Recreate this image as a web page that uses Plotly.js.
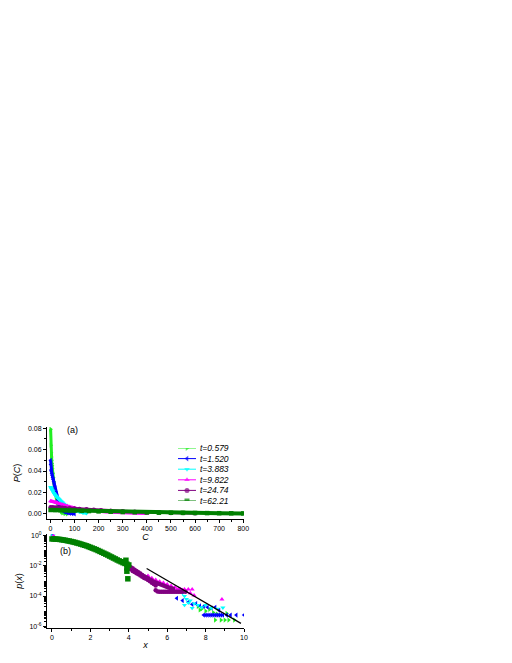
<!DOCTYPE html>
<html>
<head>
<meta charset="utf-8">
<script src="https://cdn.plot.ly/plotly-3.0.1.min.js"></script>
<style>
html, body { margin: 0; padding: 0; background: #fff; }
#chart { width: 512px; height: 663px; }
</style>
</head>
<body>
<div id="chart"></div>
<script>
// series labels (times)
var tLabels = ['t=0.579', 't=1.520', 't=3.883', 't=9.822', 't=24.74', 't=62.21'];

// (a) P(C) vs C
var cA1 = [1, 2, 3, 4, 5, 6, 7, 8, 10, 12, 14, 16, 18, 20, 23, 26, 29, 32, 36, 40, 45, 50, 60, 70];
var pA1 = [0.079, 0.064, 0.057, 0.053, 0.050, 0.047, 0.045, 0.042, 0.038, 0.034, 0.030, 0.026, 0.023, 0.020, 0.016, 0.013, 0.010, 0.008, 0.0055, 0.0035, 0.002, 0.001, 0.0004, 0.0001];
var cA2 = [1, 2, 3, 4, 6, 8, 10, 12, 14, 16, 18, 20, 22, 25, 28, 31, 34, 38, 42, 46, 50, 55, 60, 70, 80, 90, 100];
var pA2 = [0.050, 0.046, 0.041, 0.040, 0.038, 0.036, 0.034, 0.032, 0.030, 0.028, 0.026, 0.024, 0.022, 0.019, 0.016, 0.013, 0.011, 0.008, 0.006, 0.0045, 0.0035, 0.0025, 0.0018, 0.001, 0.0006, 0.0003, 0.0001];
var cA3 = [1, 3, 5, 8, 11, 14, 17, 20, 24, 28, 32, 36, 40, 45, 50, 55, 60, 66, 72, 80, 90, 100, 110, 120, 135, 150];
var pA3 = [0.025, 0.024, 0.023, 0.022, 0.021, 0.0195, 0.0185, 0.0175, 0.0165, 0.0155, 0.0145, 0.0135, 0.0125, 0.0115, 0.0105, 0.0095, 0.0085, 0.0075, 0.0065, 0.0055, 0.0045, 0.0035, 0.0027, 0.002, 0.0012, 0.0006];
var cA4 = [1, 5, 10, 15, 20, 25, 30, 40, 50, 60, 70, 80, 90, 100, 120, 140, 160, 180, 200, 230, 260, 300, 350, 400];
var pA4 = [0.012, 0.0118, 0.0115, 0.0112, 0.011, 0.0106, 0.0102, 0.0095, 0.0088, 0.008, 0.0073, 0.0066, 0.006, 0.0055, 0.0046, 0.0039, 0.0033, 0.0028, 0.0024, 0.0019, 0.0015, 0.0011, 0.0007, 0.0004];
var cA5 = [1, 10, 20, 30, 40, 50, 60, 80, 100, 120, 150, 180, 210, 250, 300, 350, 400, 450, 500, 550, 600];
var pA5 = [0.0062, 0.0062, 0.0061, 0.006, 0.0059, 0.0058, 0.0056, 0.0053, 0.005, 0.0047, 0.0043, 0.0039, 0.0035, 0.003, 0.0025, 0.002, 0.0016, 0.0013, 0.001, 0.0008, 0.0006];
var cA6 = [1, 20, 40, 60, 80, 100, 130, 160, 200, 250, 300, 350, 400, 450, 500, 550, 600, 650, 700, 750, 800];
var pA6 = [0.0037, 0.0036, 0.0035, 0.0034, 0.0032, 0.0031, 0.0029, 0.0027, 0.0024, 0.0021, 0.0018, 0.0016, 0.0014, 0.0012, 0.0011, 0.001, 0.0009, 0.0008, 0.0007, 0.0006, 0.0005];

// (b) p(x) vs x
var xB1 = [7.6, 7.7, 7.8, 8.0, 8.2, 8.4, 8.5, 8.6, 8.8, 9.0, 9.1, 9.2, 9.5];
var pB1 = [2.0e-5, 1.17e-5, 1.41e-5, 1.0e-5, 1.26e-5, 7.9e-6, 2.5e-6, 6.3e-6, 2.5e-6, 2.5e-6, 6.9e-6, 2.5e-6, 2.5e-6];
var xB2 = [0.03, 6.5, 6.8, 7.1, 7.3, 7.5, 7.7, 7.9, 8.1, 8.3, 8.5, 8.7, 7.9, 8.0, 8.1, 8.2, 8.3, 8.4, 8.5, 8.6, 8.7, 8.8, 8.9, 9.1, 9.3, 9.6, 10.0];
var pB2 = [1.12, 7.1e-5, 5.0e-5, 4.0e-5, 2.8e-5, 3.16e-5, 2.24e-5, 2.0e-5, 1.78e-5, 1.58e-5, 1.78e-5, 1.12e-5, 5.4e-6, 5.4e-6, 5.4e-6, 5.4e-6, 5.4e-6, 5.4e-6, 5.4e-6, 5.4e-6, 5.4e-6, 5.4e-6, 5.4e-6, 5.4e-6, 5.4e-6, 5.4e-6, 5.4e-6];
var xB3 = [0.05, 6.6, 6.8, 6.9, 7.0, 7.1, 6.9, 7.2, 7.3, 7.4, 7.6, 7.8, 8.0, 8.3, 8.6, 8.9];
var pB3 = [1.05, 2.82e-4, 1.58e-4, 1.0e-4, 6.3e-5, 3.5e-5, 2.5e-5, 5.0e-5, 1.58e-5, 3.16e-5, 2.5e-5, 1.78e-5, 2.5e-5, 1.58e-5, 1.41e-5, 1.66e-5];
var xB4 = [0.08, 5.0, 5.2, 5.4, 5.6, 5.8, 6.0, 6.2, 6.4, 6.6, 6.8, 7.0, 7.2, 7.4, 6.3, 6.5, 6.7, 6.9, 7.1, 7.3, 8.85];
var pB4 = [1.0, 2.24e-3, 1.58e-3, 1.20e-3, 9.3e-4, 7.6e-4, 6.0e-4, 4.8e-4, 3.8e-4, 3.16e-4, 2.51e-4, 2.0e-4, 1.58e-4, 1.12e-4, 2.82e-4, 2.82e-4, 2.82e-4, 2.82e-4, 2.82e-4, 2.82e-4, 6.0e-5];
var xB5 = [3.9, 4.0, 4.1, 4.2, 4.3, 4.4, 4.5, 4.6, 4.7, 4.8, 4.9, 5.0, 5.1, 5.2, 5.3, 5.4, 5.5, 5.6, 5.7, 5.8, 5.9, 6.0, 6.1, 6.2, 6.3,
           4.1, 4.2, 4.3, 4.4, 4.5, 4.6, 4.7, 4.8, 4.9, 5.0, 5.1, 5.2, 5.3, 5.4,
           5.4, 5.5, 5.6, 5.7, 5.8, 5.9, 6.0, 6.1, 6.2, 6.3, 6.4, 6.5, 6.6, 6.7, 6.8, 6.95];
var pB5 = [1.12e-2, 1.0e-2, 8.32e-3, 7.08e-3, 5.62e-3, 4.68e-3, 3.80e-3, 3.16e-3, 2.51e-3, 2.09e-3, 1.78e-3, 1.51e-3, 1.26e-3, 1.07e-3, 8.9e-4, 7.9e-4, 7.1e-4, 6.3e-4, 5.6e-4, 5.0e-4, 4.5e-4, 4.0e-4, 3.5e-4, 3.3e-4, 3.0e-4,
           6.0e-3, 4.6e-3, 3.98e-3, 3.3e-3, 2.82e-3, 2.3e-3, 1.95e-3, 1.6e-3, 1.4e-3, 1.15e-3, 9.5e-4, 7.6e-4, 6.3e-4, 5.0e-4,
           2.4e-4, 2.0e-4, 1.95e-4, 1.95e-4, 1.95e-4, 1.95e-4, 1.95e-4, 1.95e-4, 1.95e-4, 1.95e-4, 1.95e-4, 1.95e-4, 1.95e-4, 1.95e-4, 1.95e-4, 1.95e-4];
var xB6 = [0.0, 0.1, 0.2, 0.3, 0.4, 0.5, 0.6, 0.7, 0.8, 0.9, 1.0, 1.1, 1.2, 1.3, 1.4, 1.5, 1.6, 1.7, 1.8, 1.9, 2.0,
           2.1, 2.2, 2.3, 2.4, 2.5, 2.6, 2.7, 2.8, 2.9, 3.0, 3.1, 3.2, 3.3, 3.4, 3.5, 3.6, 3.7, 3.8, 3.9, 4.0,
           3.85, 3.9, 3.9, 3.95];
var pB6 = [0.631, 0.631, 0.617, 0.603, 0.589, 0.562, 0.537, 0.513, 0.479, 0.457, 0.427, 0.398, 0.372, 0.339, 0.316, 0.288, 0.263, 0.240, 0.219, 0.195, 0.174,
           0.155, 0.138, 0.123, 0.107, 0.0933, 0.0813, 0.0708, 0.0617, 0.0537, 0.0457, 0.0398, 0.0339, 0.0295, 0.0251, 0.0219, 0.0191, 0.0166, 0.0148, 0.0132, 0.0117,
           0.024, 0.0075, 0.0045, 0.0014];

// fitted line in (b)
var xFit = [4.93, 9.84];
var pFit = [6.9e-3, 1.51e-6];

var colors = ['#22ee22', '#0000ff', '#00ffff', '#ff00ff', '#800080', '#008000'];
var symbols = ['triangle-right', 'triangle-left', 'triangle-down', 'triangle-up', 'circle', 'square'];

var cA = [cA1, cA2, cA3, cA4, cA5, cA6];
var pA = [pA1, pA2, pA3, pA4, pA5, pA6];
var xB = [xB1, xB2, xB3, xB4, xB5, xB6];
var pB = [pB1, pB2, pB3, pB4, pB5, pB6];

var data = [];
for (var i = 0; i < 6; i++) {
    data.push({
        x: cA[i], y: pA[i], xaxis: 'x', yaxis: 'y',
        type: 'scatter', mode: 'lines+markers', name: tLabels[i], showlegend: false,
        line: {color: colors[i], width: i == 5 ? 4 : 3},
        marker: {color: colors[i], symbol: symbols[i], size: 4.5, line: {width: 0}}
    });
}
for (var i = 0; i < 6; i++) {
    data.push({
        x: xB[i], y: pB[i], xaxis: 'x2', yaxis: 'y2',
        type: 'scatter', mode: 'markers', name: tLabels[i], showlegend: false,
        marker: {color: colors[i], symbol: symbols[i], size: i == 5 ? 5.5 : 4.5, line: {width: 0}}
    });
}
data.push({
    x: xFit, y: pFit, xaxis: 'x2', yaxis: 'y2',
    type: 'scatter', mode: 'lines', showlegend: false,
    line: {color: '#000', width: 1.2}
});

// hand-made legend (plotly's own legend rows are too tall here)
var annotations = [];
for (var i = 0; i < 6; i++) {
    data.push({
        x: [0, 0.5, 1], y: [i, i, i], xaxis: 'x3', yaxis: 'y3',
        type: 'scatter', mode: 'lines+markers', showlegend: false, hoverinfo: 'skip',
        line: {color: colors[i], width: 1},
        marker: {color: colors[i], symbol: symbols[i], size: [0, 5, 0], line: {width: 0}}
    });
    annotations.push({
        xref: 'paper', yref: 'y3', x: 198 / 512, y: i, xanchor: 'left', yanchor: 'middle',
        text: '<i>' + tLabels[i] + '</i>', showarrow: false,
        font: {size: 8.5, color: '#000'}
    });
}
annotations.push({xref: 'paper', yref: 'paper', x: 65 / 512, y: 1 - 430 / 663, text: '(a)',
    showarrow: false, font: {size: 9, color: '#000'}});
annotations.push({xref: 'paper', yref: 'paper', x: 58 / 512, y: 1 - 558 / 663, text: '(b)',
    showarrow: false, font: {size: 9, color: '#000'}});

var axisBase = {
    showline: true, linecolor: '#000', linewidth: 1, mirror: false,
    showgrid: false, zeroline: false,
    ticks: 'outside', ticklen: 3, tickwidth: 1, tickcolor: '#000',
    tickfont: {size: 7, color: '#000'}
};
function ax(extra) { return Object.assign({}, axisBase, extra); }

var layout = {
    width: 512, height: 663,
    margin: {l: 0, r: 0, t: 0, b: 0},
    paper_bgcolor: '#fff', plot_bgcolor: '#fff',
    font: {family: 'Liberation Sans, Arial, sans-serif', color: '#000'},
    showlegend: false,
    xaxis: ax({
        domain: [47 / 512, 244 / 512], anchor: 'y', range: [-14, 803],
        tick0: 0, dtick: 100,
        minor: {dtick: 50, ticks: 'outside', ticklen: 2, tickcolor: '#000'},
        title: {text: '<i>C</i>', font: {size: 9}, standoff: 1}
    }),
    yaxis: ax({
        domain: [1 - 519 / 663, 1 - 427 / 663], anchor: 'x', range: [-0.0047, 0.081],
        tick0: 0, dtick: 0.02, tickformat: '.2f',
        minor: {dtick: 0.01, ticks: 'outside', ticklen: 2, tickcolor: '#000'},
        title: {text: '<i>P</i>(<i>C</i>)', font: {size: 9}, standoff: 5}
    }),
    xaxis2: ax({
        domain: [47 / 512, 244 / 512], anchor: 'y2', range: [-0.26, 10],
        tick0: 0, dtick: 2,
        minor: {dtick: 1, ticks: 'outside', ticklen: 2, tickcolor: '#000'},
        title: {text: '<i>x</i>', font: {size: 9}, standoff: 1}
    }),
    yaxis2: ax({
        domain: [1 - 628 / 663, 1 - 534 / 663], anchor: 'x2', type: 'log', range: [-6.13, 0.13],
        tickmode: 'array', tickvals: [1, 1e-2, 1e-4, 1e-6],
        ticktext: ['10<sup>0</sup>', '10<sup>-2</sup>', '10<sup>-4</sup>', '10<sup>-6</sup>'],
        minor: {dtick: 'D1', ticks: 'outside', ticklen: 2, tickcolor: '#000'},
        title: {text: '<i>p</i>(<i>x</i>)', font: {size: 9}, standoff: 5}
    }),
    xaxis3: {domain: [178 / 512, 196 / 512], anchor: 'y3', range: [0, 1], visible: false, fixedrange: true},
    yaxis3: {domain: [1 - 501 / 663, 1 - 448 / 663], anchor: 'x3', range: [5, 0], visible: false, fixedrange: true},
    annotations: annotations
};

Plotly.newPlot('chart', data, layout, {displayModeBar: false, staticPlot: true});
</script>
</body>
</html>
